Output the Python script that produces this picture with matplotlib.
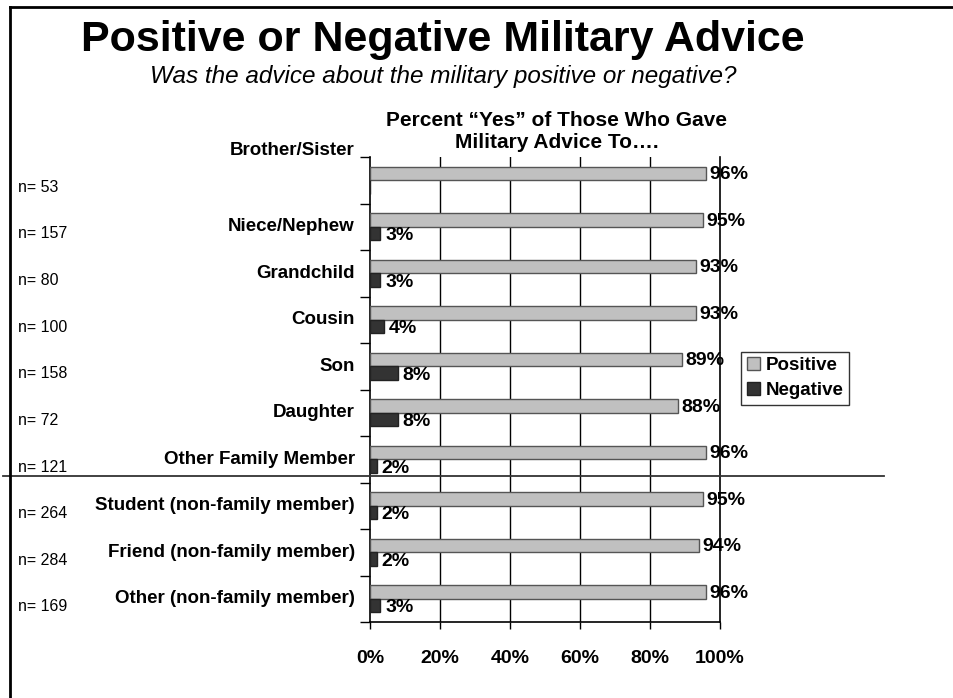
import numpy as np
import matplotlib
matplotlib.use("Agg")
import matplotlib.pyplot as plt
from matplotlib.transforms import blended_transform_factory
from matplotlib.lines import Line2D

plt.rcParams['font.family'] = ['Liberation Sans', 'DejaVu Sans']

categories = ["Brother/Sister", "Niece/Nephew", "Grandchild", "Cousin", "Son",
              "Daughter", "Other Family Member", "Student (non-family member)",
              "Friend (non-family member)", "Other (non-family member)"]
n_counts = [53, 157, 80, 100, 158, 72, 121, 264, 284, 169]
positive = [96, 95, 93, 93, 89, 88, 96, 95, 94, 96]
negative = [np.nan, 3, 3, 4, 8, 8, 2, 2, 2, 3]
x_ticks = [0, 20, 40, 60, 80, 100]

W, H = 954, 698


def fx(px):
    return px / W


def fy(py):
    return 1 - py / H


fig = plt.figure(figsize=(W / 100, H / 100), dpi=100)
ax = fig.add_axes([fx(370), fy(622), fx(720) - fx(370), fy(157) - fy(622)])

y = np.arange(len(categories))
bh = 0.29
ax.barh(y - bh / 2, positive, height=bh, color='#c0c0c0', edgecolor='#555555',
        linewidth=1, label='Positive', zorder=3)
ax.barh(y + bh / 2, np.nan_to_num(negative), height=bh, color='#333333',
        edgecolor='#222222', linewidth=1, label='Negative', zorder=3)

for i, (p, q) in enumerate(zip(positive, negative)):
    ax.annotate(f"{p}%", (p, i - bh / 2), xytext=(2.5, -1), textcoords='offset points',
                ha='left', va='center', fontsize=14, fontweight='bold', zorder=4)
    if not np.isnan(q):
        ax.annotate(f"{q:.0f}%", (q, i + bh / 2), xytext=(3.5, -1.5),
                    textcoords='offset points', ha='left', va='center',
                    fontsize=14, fontweight='bold', zorder=4)

ax.set_xlim(0, 100)
ax.set_ylim(len(categories) - 0.5, -0.5)
ax.set_xticks(x_ticks)
ax.set_xticklabels([f"{t}%" for t in x_ticks], fontsize=14, fontweight='bold')
ax.tick_params(axis='x', length=5, width=1, pad=15, direction='out')
ax.set_yticks(np.arange(len(categories) + 1) - 0.5)
ax.set_yticklabels([])
ax.tick_params(axis='y', length=7, width=1, direction='out')
for t in x_ticks[1:-1]:
    ax.axvline(t, color='black', linewidth=1, zorder=1)
ax.spines['top'].set_visible(False)
for s in ['left', 'right', 'bottom']:
    ax.spines[s].set_linewidth(1.2)

# category labels and n counts
tr = blended_transform_factory(fig.transFigure, ax.transData)
for i, (cat, n) in enumerate(zip(categories, n_counts)):
    yy = i - 0.65 if i == 0 else i
    ax.text(fx(355), yy, cat, transform=tr, ha='right', va='center',
            fontsize=13.5, fontweight='bold')
    ax.annotate(f"n= {n}", (fx(18), i), xycoords=tr, xytext=(0, -5 - 0.1 * i),
                textcoords='offset points', ha='left', va='center', fontsize=11.5)

# titles
fig.text(fx(443), fy(40), "Positive or Negative Military Advice", ha='center',
         va='center', fontsize=31, fontweight='bold')
fig.text(fx(443), fy(77), "Was the advice about the military positive or negative?",
         ha='center', va='center', fontsize=17.5, style='italic')
fig.text(fx(557), fy(132), "Percent \u201cYes\u201d of Those Who Gave\nMilitary Advice To\u2026.",
         ha='center', va='center', fontsize=15, fontweight='bold', linespacing=1.2)

# legend
leg = ax.legend(loc='center', bbox_to_anchor=(fx(795), fy(378)),
                bbox_transform=fig.transFigure, fontsize=13.5, frameon=True,
                fancybox=False, handlelength=0.7, handleheight=0.7,
                handletextpad=0.3, borderpad=0.3, labelspacing=0.4,
                borderaxespad=0)
leg.get_frame().set_edgecolor('black')
leg.get_frame().set_linewidth(1)
for txt in leg.get_texts():
    txt.set_fontweight('bold')

# separator and page border
fig.add_artist(Line2D([fx(3), fx(884)], [fy(476), fy(476)], color='#333333', linewidth=1.3))
fig.add_artist(Line2D([fx(10), fx(10)], [fy(7), 0], color='black', linewidth=2))
fig.add_artist(Line2D([fx(10), 1], [fy(7), fy(7)], color='black', linewidth=2))

fig.savefig("out.png", dpi=100)
